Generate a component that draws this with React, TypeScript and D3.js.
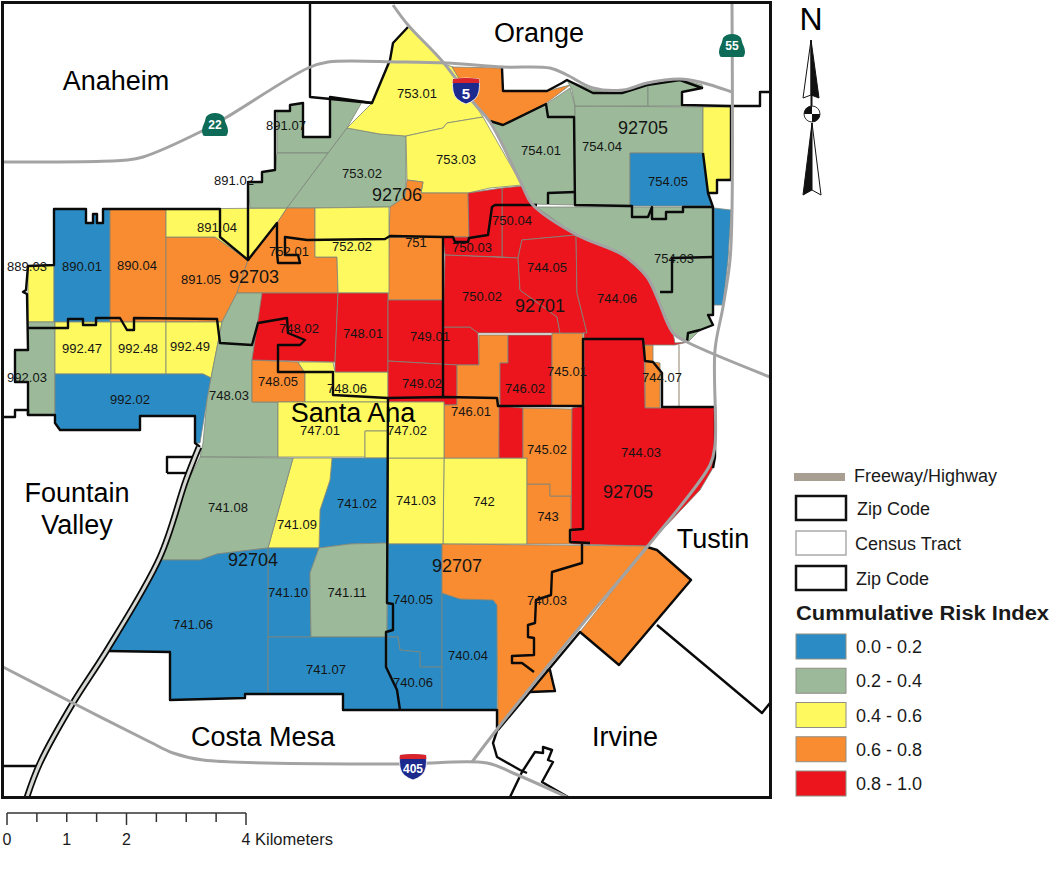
import * as d3 from "d3";
import { useEffect, useRef } from "react";

// traced outlines, in map units (one unit is one pixel of the source map)
type Ring = number[][];

const riskBreaks = [0.2, 0.4, 0.6, 0.8];
const riskColors = ["#2b8cc5", "#9cba9a", "#fdf95f", "#f98b30", "#ec151d"];
const riskLabels = ["0.0 - 0.2", "0.2 - 0.4", "0.4 - 0.6", "0.6 - 0.8", "0.8 - 1.0"];

const tractRisk: Record<string, number> = {
	"889.03": 0.5, "890.01": 0.1, "890.04": 0.7, "891.05": 0.7, "891.04": 0.5,
	"891.07": 0.3, "891.02": 0.3, "753.02": 0.3, "753.01": 0.5, "753.03": 0.5,
	"753.a": 0.7, "753.b": 0.7, "752.01": 0.7, "752.02": 0.5, "751": 0.7,
	"992.03": 0.3, "992.47": 0.5, "992.48": 0.5, "992.49": 0.5, "992.02": 0.1,
	"748.03": 0.3, "748.05": 0.7, "748.06": 0.5, "748.02": 0.9, "748.01": 0.9,
	"749.01": 0.9, "749.02": 0.9, "746.01": 0.7, "746.02": 0.9, "746.a": 0.9,
	"745.01": 0.7, "745.02": 0.7, "743": 0.7, "742": 0.5, "744.07": 0.7,
	"744.03": 0.9, "747.01": 0.5, "747.02": 0.5, "741.03": 0.5, "741.02": 0.1,
	"741.09": 0.5, "741.08": 0.3, "741.10": 0.1, "741.11": 0.3, "741.06": 0.1,
	"741.07": 0.1, "740.05": 0.1, "740.06": 0.1, "740.04": 0.1, "740.03": 0.7,
	"750.04": 0.9, "750.03": 0.9, "750.02": 0.9, "744.05": 0.9, "744.06": 0.9,
	"754.01": 0.3, "754.04": 0.3, "754.05": 0.1, "754.03": 0.3, "754.a": 0.3,
	"754.b": 0.3, "755.a": 0.5, "755.b": 0.1
};

const tractShapes: Record<string, Ring[]> = {
	"889.03": [[[28, 266], [54, 265], [54, 322], [28, 322]]],
	"890.01": [[[54, 209], [86, 209], [86, 223], [93, 223], [93, 214], [97, 214], [97, 223], [103, 223], [103, 209], [110, 209], [110, 322], [54, 322]]],
	"890.04": [[[110, 209], [166, 209], [166, 322], [110, 322]]],
	"891.05": [[[166, 237], [215, 237], [248, 260], [237, 293], [222, 322], [166, 322]]],
	"891.04": [[[166, 209], [287, 208], [277, 223], [248, 260], [215, 237], [166, 237]]],
	"891.07": [[[277, 111], [290, 111], [290, 105], [303, 103], [303, 137], [330, 137], [330, 97], [362, 102], [347, 128], [328, 153], [277, 153]]],
	"891.02": [[[277, 153], [328, 153], [287, 208], [250, 208], [248, 182], [262, 182], [262, 172], [275, 170]]],
	"753.02": [[[347, 128], [380, 134], [406, 136], [406, 180], [405, 197], [390, 207], [287, 208]]],
	"753.01": [[[408, 27], [432, 50], [447, 65], [453, 67], [473, 102], [483, 117], [447, 123], [443, 128], [406, 136], [380, 134], [347, 128], [372, 103], [390, 60], [393, 43]]],
	"753.03": [[[406, 136], [443, 128], [447, 123], [483, 117], [522, 185], [490, 188], [468, 193], [421, 193], [423, 182], [407, 180]]],
	"753.a": [[[407, 180], [423, 182], [421, 193], [468, 193], [469, 237], [389, 237], [390, 207], [405, 197]]],
	"753.b": [[[452, 67], [502, 68], [503, 91], [547, 91], [570, 85], [557, 95], [545, 104], [503, 125], [490, 121], [473, 102]]],
	"752.01": [[[287, 208], [315, 208], [315, 257], [337, 257], [338, 293], [237, 293], [248, 260], [277, 223]]],
	"752.02": [[[315, 208], [389, 207], [389, 293], [338, 293], [337, 257], [315, 257]]],
	"751": [[[389, 237], [443, 237], [443, 300], [388, 300]]],
	"992.03": [[[28, 322], [55, 322], [55, 415], [28, 415], [28, 382], [15, 382], [15, 350], [28, 350]]],
	"992.47": [[[55, 322], [111, 322], [111, 374], [55, 374]]],
	"992.48": [[[111, 322], [166, 322], [166, 374], [111, 374]]],
	"992.49": [[[166, 322], [222, 322], [211, 378], [203, 374], [166, 374]]],
	"992.02": [[[55, 374], [203, 374], [211, 378], [207, 400], [200, 443], [195, 443], [195, 416], [140, 416], [140, 430], [60, 430], [55, 423], [55, 415]]],
	"748.03": [[[237, 293], [263, 293], [252, 360], [252, 402], [278, 402], [278, 457], [200, 457], [203, 443], [207, 400], [211, 378], [222, 322]]],
	"748.05": [[[252, 360], [298, 362], [305, 373], [305, 402], [252, 402]]],
	"748.06": [[[298, 362], [333, 362], [335, 372], [388, 372], [388, 402], [305, 402], [305, 373]]],
	"748.02": [[[262, 293], [338, 293], [335, 362], [252, 360]]],
	"748.01": [[[338, 293], [388, 293], [388, 372], [335, 372], [335, 362]]],
	"749.01": [[[388, 300], [443, 300], [443, 327], [470, 327], [478, 333], [479, 365], [457, 365], [388, 361]]],
	"749.02": [[[388, 361], [457, 365], [457, 405], [444, 405], [444, 402], [388, 402]]],
	"746.01": [[[479, 335], [508, 335], [508, 363], [500, 363], [499, 458], [444, 458], [444, 405], [457, 405], [457, 365], [479, 365]]],
	"746.02": [[[508, 335], [552, 335], [552, 406], [500, 406], [500, 363], [508, 363]]],
	"746.a": [[[499, 406], [523, 408], [523, 458], [499, 458]]],
	"745.01": [[[552, 333], [583, 333], [583, 406], [552, 406]]],
	"745.02": [[[523, 408], [572, 409], [572, 496], [550, 496], [550, 484], [527, 484], [527, 458], [523, 458]]],
	"743": [[[527, 484], [550, 484], [550, 496], [571, 496], [571, 544], [527, 544]]],
	"742": [[[444, 458], [527, 458], [527, 544], [443, 544]]],
	"741.03": [[[388, 458], [444, 458], [443, 544], [388, 544]]],
	"744.07": [[[645, 345], [653, 345], [653, 362], [660, 363], [660, 408], [645, 408]]],
	"744.03": [[[584, 339], [644, 339], [645, 408], [660, 408], [715, 407], [715, 457], [713, 468], [700, 490], [647, 546], [571, 544], [572, 408], [584, 406]]],
	"747.01": [[[278, 402], [388, 402], [388, 431], [365, 431], [365, 457], [278, 457]]],
	"747.02": [[[365, 431], [388, 431], [388, 402], [444, 402], [444, 458], [365, 458]]],
	"741.02": [[[332, 458], [388, 458], [388, 543], [350, 544], [319, 548], [320, 510], [330, 480]]],
	"741.09": [[[293, 458], [332, 458], [330, 480], [320, 510], [319, 548], [268, 548]]],
	"741.08": [[[200, 457], [293, 458], [268, 548], [217, 554], [200, 560], [160, 560], [173, 513], [187, 483]]],
	"741.10": [[[268, 548], [319, 548], [310, 573], [311, 637], [268, 637]]],
	"741.11": [[[319, 548], [350, 544], [387, 543], [387, 637], [311, 637], [310, 573]]],
	"741.06": [[[160, 560], [200, 560], [217, 554], [268, 548], [268, 694], [245, 694], [245, 698], [170, 700], [170, 652], [107, 651]]],
	"741.07": [[[268, 637], [387, 637], [387, 667], [397, 690], [400, 710], [343, 710], [343, 694], [268, 694]]],
	"740.05": [[[388, 544], [442, 544], [442, 667], [420, 667], [420, 652], [400, 650], [398, 637], [387, 637]]],
	"740.06": [[[387, 637], [398, 637], [400, 650], [420, 652], [420, 667], [442, 667], [442, 710], [400, 710], [397, 690], [387, 667]]],
	"740.04": [[[442, 593], [460, 599], [493, 600], [497, 605], [497, 710], [442, 710]]],
	"740.03": [
		[[442, 544], [646, 546], [580, 627], [498, 728], [497, 605], [493, 600], [460, 599], [442, 593]],
		[[647, 547], [657, 550], [691, 580], [619, 665], [580, 632]],
		[[546, 670], [550, 670], [553, 683], [555, 691], [530, 692]]
	],
	"750.04": [[[502, 188], [522, 186], [532, 204], [576, 235], [522, 240], [518, 258], [502, 257]]],
	"750.03": [[[443, 237], [469, 237], [468, 193], [502, 188], [502, 257], [445, 255]]],
	"750.02": [[[445, 255], [518, 258], [520, 290], [557, 317], [560, 333], [478, 333], [470, 327], [443, 327]]],
	"744.05": [[[522, 240], [576, 235], [577, 293], [587, 333], [560, 333], [557, 317], [520, 290], [518, 258]]],
	"744.06": [[[576, 235], [623, 255], [647, 277], [657, 297], [673, 333], [675, 343], [688, 342], [675, 345], [644, 345], [644, 339], [584, 339], [584, 333], [587, 333], [577, 293]]],
	"754.01": [[[490, 121], [503, 125], [545, 105], [570, 88], [575, 106], [575, 205], [532, 204], [522, 185]]],
	"754.04": [[[575, 106], [703, 107], [703, 153], [630, 153], [630, 206], [575, 206]]],
	"754.05": [[[630, 153], [703, 153], [708, 193], [712, 206], [630, 206]]],
	"754.03": [[[532, 204], [537, 207], [713, 207], [713, 315], [708, 315], [713, 325], [700, 330], [688, 342], [673, 333], [657, 297], [647, 277], [623, 255], [576, 235]]],
	"754.a": [[[567, 80], [593, 90], [623, 90], [648, 85], [648, 106], [575, 106], [572, 90]]],
	"754.b": [[[648, 85], [680, 79], [702, 85], [703, 88], [682, 92], [682, 106], [648, 106]]],
	"755.a": [[[703, 107], [731, 107], [731, 179], [717, 180], [717, 193], [708, 193], [703, 153]]],
	"755.b": [[[714, 208], [731, 210], [728, 260], [723, 305], [714, 305]]]
};

const tractLabels: [string, number, number][] = [
	["889.03", 27, 266], ["890.01", 82, 266], ["890.04", 137, 265], ["891.05", 201, 279],
	["891.04", 217, 227], ["891.07", 286, 125], ["891.02", 234, 180], ["753.02", 362, 173],
	["752.01", 289, 251], ["752.02", 352, 246], ["992.47", 82, 348], ["992.48", 138, 348],
	["992.49", 190, 346], ["992.03", 27, 377], ["992.02", 130, 399], ["748.03", 229, 395],
	["748.05", 278, 381], ["748.06", 347, 388], ["748.02", 299, 328], ["748.01", 363, 333],
	["749.01", 430, 336], ["749.02", 422, 383], ["746.01", 471, 411], ["746.02", 525, 388],
	["745.01", 567, 371], ["744.07", 662, 377], ["744.03", 641, 452], ["745.02", 547, 449],
	["743", 548, 516], ["742", 484, 501], ["741.03", 416, 500], ["747.02", 407, 430],
	["747.01", 320, 430], ["741.02", 357, 503], ["741.09", 297, 524], ["741.08", 228, 507],
	["741.10", 288, 592], ["741.11", 347, 592], ["741.06", 193, 624], ["741.07", 326, 669],
	["740.05", 413, 599], ["740.06", 413, 682], ["740.04", 468, 655], ["740.03", 547, 600],
	["750.04", 512, 220], ["750.03", 472, 247], ["744.05", 547, 267], ["750.02", 482, 296],
	["744.06", 617, 298], ["751", 416, 242], ["753.01", 417, 93], ["753.03", 456, 159],
	["754.01", 541, 150], ["754.04", 602, 146], ["754.05", 668, 181], ["754.03", 674, 258]
];

const zipLabels: [string, number, number][] = [
	["92706", 397, 195], ["92703", 254, 277], ["92701", 540, 306], ["92705", 643, 128],
	["92705", 628, 492], ["92704", 253, 560], ["92707", 457, 566]
];

const cityLabels: [string, number, number][] = [
	["Anaheim", 116, 81], ["Orange", 539, 33], ["Santa Ana", 353, 413],
	["Fountain", 77, 493], ["Valley", 77, 525], ["Costa Mesa", 263, 737],
	["Tustin", 713, 539], ["Irvine", 625, 737]
];

const zipLines: Ring[] = [
	[[3, 417], [15, 417], [15, 410], [28, 410], [28, 415], [55, 415], [55, 423], [60, 430], [140, 430], [140, 416], [195, 416], [195, 443], [200, 447]],
	[[28, 415], [28, 382], [15, 382], [15, 350], [28, 350], [27, 294], [23, 292], [26, 290], [28, 266], [54, 265], [54, 209], [86, 209], [86, 223], [93, 223], [93, 214], [97, 214], [97, 223], [103, 223], [103, 209], [220, 209], [220, 237], [248, 260], [248, 182], [262, 182], [262, 172], [275, 170], [275, 111], [290, 111], [290, 105], [303, 103], [303, 137], [330, 137], [330, 97], [372, 103], [390, 60], [393, 43], [408, 27]],
	[[27, 328], [68, 328], [68, 319], [83, 319], [83, 325], [96, 325], [96, 318], [120, 318], [127, 330], [134, 330], [134, 318], [217, 319], [220, 343], [252, 345], [258, 323], [287, 318], [288, 333], [305, 340], [300, 345], [278, 345], [278, 372], [333, 372], [333, 395], [388, 398], [445, 397], [497, 398], [498, 406], [583, 406], [583, 339], [643, 339], [645, 361], [653, 362], [662, 373], [662, 407], [715, 407], [715, 457], [713, 468]],
	[[248, 260], [277, 223], [277, 253], [278, 263], [300, 263], [298, 255], [285, 255], [285, 237], [307, 240], [385, 239], [390, 236], [443, 237], [453, 237], [455, 242], [468, 242], [469, 238], [488, 235], [492, 207], [495, 205], [537, 205]],
	[[443, 237], [443, 397]],
	[[548, 204], [548, 193], [575, 192]],
	[[490, 121], [503, 125], [546, 104], [548, 117], [574, 117], [575, 205], [632, 206], [632, 217], [648, 217], [652, 207], [652, 219], [666, 219], [666, 212], [683, 212], [683, 207], [713, 207], [713, 315], [708, 315], [713, 325], [700, 330], [688, 333], [687, 342]],
	[[502, 68], [503, 91], [547, 91], [562, 83], [567, 80], [593, 93], [622, 93], [647, 85], [680, 80], [702, 88], [682, 92], [682, 105], [731, 106], [760, 106], [760, 92], [770, 92]],
	[[703, 153], [708, 193], [717, 193], [717, 180], [731, 180], [731, 106]],
	[[708, 193], [713, 207]],
	[[713, 257], [672, 258], [672, 292], [660, 292]],
	[[310, 3], [310, 97], [372, 103]],
	[[582, 544], [582, 563], [552, 572], [551, 595], [536, 600], [535, 623], [528, 625], [528, 637], [534, 638], [534, 655], [512, 656], [512, 663], [522, 663], [534, 672]],
	[[590, 543], [570, 542], [570, 530], [583, 529], [583, 406]],
	[[388, 398], [387, 603], [393, 604], [393, 630], [386, 632], [386, 667], [397, 690], [400, 710]],
	[[107, 651], [170, 652], [170, 700], [245, 698], [245, 694], [343, 694], [343, 710], [497, 710], [497, 728]],
	[[498, 730], [580, 632], [619, 665], [691, 580], [657, 550], [647, 547]],
	[[657, 625], [762, 713], [770, 703]],
	[[546, 670], [550, 670], [553, 683], [555, 691], [530, 692]],
	[[498, 728], [493, 743], [497, 757], [520, 770], [527, 773]],
	[[510, 797], [522, 772], [535, 752], [543, 753], [543, 747], [552, 750], [548, 760], [553, 762], [542, 782], [568, 797]],
	[[167, 473], [167, 457], [197, 457]],
	[[167, 473], [188, 473]],
	[[3, 766], [37, 766]]
];

const freeways: Ring[] = [
	[[2, 162], [127, 160], [143, 157], [200, 132], [227, 117], [308, 68], [328, 62], [400, 62], [447, 63], [503, 67], [550, 68], [567, 75], [593, 88], [623, 90], [647, 83], [680, 79], [700, 82], [732, 92]],
	[[393, 5], [408, 25], [443, 62], [473, 102], [490, 122], [522, 185], [532, 204], [577, 235], [623, 255], [647, 277], [657, 297], [673, 333], [687, 342], [770, 377]],
	[[732, 3], [732, 210], [730, 260], [723, 307], [715, 350], [715, 445], [710, 465], [647, 547], [580, 627], [498, 728], [472, 762]],
	[[3, 667], [73, 703], [150, 742], [173, 753], [203, 760], [397, 764], [487, 763], [513, 773], [567, 797]]
];

const tollRoad: Ring = [[199, 447], [186, 480], [160, 557], [107, 650], [73, 703], [40, 763], [27, 797]];

const stateShields: [string, number, number][] = [["22", 215, 125], ["55", 732, 46]];
const interstateShields: [string, number, number][] = [["5", 466, 91], ["405", 413, 767]];

const scaleMajorKm = [0, 1, 2, 4];
const scaleTicksKm = [0, 0.5, 1, 1.5, 2, 2.5, 3, 3.5, 4];

const FONT = "'Liberation Sans', Arial, sans-serif";

const drawChart = (node: SVGSVGElement) => {
	const svg = d3.select(node);
	svg.selectAll("*").remove();

	const color = d3.scaleThreshold<number, string>().domain(riskBreaks).range(riskColors);
	const path = d3.geoPath(d3.geoIdentity());
	const curve = d3.line().curve(d3.curveCatmullRom.alpha(0.5));
	const line = (coords: Ring) => path({ type: "LineString", coordinates: coords } as any) as string;

	// geojson rings have to end on their first point
	const features = Object.keys(tractShapes).map(id => ({
		type: "Feature",
		id,
		properties: { risk: tractRisk[id] },
		geometry: { type: "MultiPolygon", coordinates: tractShapes[id].map(r => [[...r, r[0]]]) }
	}));

	svg
		.append("g")
		.selectAll("path")
		.data(features)
		.enter()
		.append("path")
		.attr("d", d => path(d as any))
		.attr("fill", d => color(d.properties.risk))
		.attr("stroke", "#7d857a")
		.attr("stroke-width", 0.8);

	// census tract edge of the white hole by 744.07
	svg
		.append("path")
		.attr("d", line([[679, 345], [679, 407]]))
		.attr("fill", "none")
		.attr("stroke", "#b5ab9c")
		.attr("stroke-width", 1.5);

	svg
		.append("g")
		.selectAll("path")
		.data(zipLines)
		.enter()
		.append("path")
		.attr("d", line)
		.attr("fill", "none")
		.attr("stroke", "#0a0a0a")
		.attr("stroke-width", 2.4)
		.attr("stroke-linejoin", "round");

	[["#0a0a0a", 6.5], ["#d5d8d2", 3]].forEach(([c, w]) => {
		svg
			.append("path")
			.attr("d", curve(tollRoad as any) as string)
			.attr("fill", "none")
			.attr("stroke", c as string)
			.attr("stroke-width", w as number);
	});

	svg
		.append("g")
		.selectAll("path")
		.data(freeways)
		.enter()
		.append("path")
		.attr("d", d => curve(d as any) as string)
		.attr("fill", "none")
		.attr("stroke", "#a3a3a3")
		.attr("stroke-width", 3)
		.attr("stroke-linejoin", "round");

	svg
		.append("rect")
		.attr("x", 2.5)
		.attr("y", 2.5)
		.attr("width", 768)
		.attr("height", 795)
		.attr("fill", "none")
		.attr("stroke", "#111")
		.attr("stroke-width", 3);

	const addText = (rows: [string, number, number][], size: number, fill: string) => {
		svg
			.append("g")
			.selectAll("text")
			.data(rows)
			.enter()
			.append("text")
			.attr("x", d => d[1])
			.attr("y", d => d[2])
			.attr("text-anchor", "middle")
			.attr("dominant-baseline", "central")
			.attr("font-family", FONT)
			.attr("font-size", size)
			.attr("fill", fill)
			.text(d => d[0]);
	};

	addText(tractLabels, 13, "#141414");
	addText(zipLabels, 18, "#141414");
	addText(cityLabels, 27, "#000");

	const stateG = svg
		.append("g")
		.selectAll("g")
		.data(stateShields)
		.enter()
		.append("g")
		.attr("transform", d => `translate(${d[1]},${d[2]})`);
	stateG
		.append("path")
		.attr("d", "M-9,-8 Q-6,-12 0,-12 Q6,-12 9,-8 Q10,-3 12,1 Q14,6 12,10 Q12,11 10,11 L-10,11 Q-12,11 -12,10 Q-14,6 -12,1 Q-10,-3 -9,-8 Z")
		.attr("fill", "#0e6b58");
	stateG
		.append("text")
		.attr("text-anchor", "middle")
		.attr("dominant-baseline", "central")
		.attr("font-family", FONT)
		.attr("font-weight", "bold")
		.attr("font-size", 12)
		.attr("fill", "#fff")
		.text(d => d[0]);

	const interG = svg
		.append("g")
		.selectAll("g")
		.data(interstateShields)
		.enter()
		.append("g")
		.attr("transform", d => `translate(${d[1]},${d[2]})`);
	interG
		.append("path")
		.attr("d", "M-13,-12 Q0,-14 13,-12 Q15,2 9,8 Q4,12 0,13 Q-4,12 -9,8 Q-15,2 -13,-12 Z")
		.attr("fill", "#1b2a8c")
		.attr("stroke", "#fff")
		.attr("stroke-width", 0.8);
	interG
		.append("path")
		.attr("d", "M-13,-12 Q0,-14 13,-12 L13.4,-8 L-13.4,-8 Z")
		.attr("fill", "#d8242a");
	interG
		.append("text")
		.attr("y", 2)
		.attr("text-anchor", "middle")
		.attr("dominant-baseline", "central")
		.attr("font-family", FONT)
		.attr("font-weight", "bold")
		.attr("font-size", d => (d[0].length > 1 ? 12 : 15))
		.attr("fill", "#fff")
		.text(d => d[0]);

	// north arrow
	const north = svg.append("g");
	north
		.append("text")
		.attr("x", 811)
		.attr("y", 30)
		.attr("text-anchor", "middle")
		.attr("font-family", FONT)
		.attr("font-size", 32)
		.text("N");
	north.append("path").attr("d", "M811,40 L803,98 L811,95 Z").attr("fill", "#fff").attr("stroke", "#111").attr("stroke-width", 1);
	north.append("path").attr("d", "M811,40 L819,98 L811,95 Z").attr("fill", "#111").attr("stroke", "#111").attr("stroke-width", 1);
	north.append("path").attr("d", "M811.5,95 L811.5,106").attr("stroke", "#111").attr("stroke-width", 2);
	north.append("circle").attr("cx", 812).attr("cy", 114).attr("r", 8).attr("fill", "#fff").attr("stroke", "#333").attr("stroke-width", 1);
	north.append("path").attr("d", "M812,114 L804,114 A8,8 0 0 1 812,106 Z").attr("fill", "#111");
	north.append("path").attr("d", "M812,114 L820,114 A8,8 0 0 1 812,122 Z").attr("fill", "#111");
	north.append("path").attr("d", "M812,123 L803,195 L812,190 Z").attr("fill", "#111").attr("stroke", "#111").attr("stroke-width", 1);
	north.append("path").attr("d", "M812,123 L821,195 L812,190 Z").attr("fill", "#fff").attr("stroke", "#111").attr("stroke-width", 1);

	// legend
	const legendX = 796;
	const addLegendText = (label: string, x: number, y: number, size = 18, weight = "normal") =>
		svg
			.append("text")
			.attr("x", x)
			.attr("y", y)
			.attr("dominant-baseline", "central")
			.attr("font-family", FONT)
			.attr("font-size", size)
			.attr("font-weight", weight)
			.attr("fill", "#1a1a1a")
			.text(label);

	svg.append("rect").attr("x", legendX - 2).attr("y", 473).attr("width", 51).attr("height", 8).attr("fill", "#a89f92");
	addLegendText("Freeway/Highway", 854, 476);

	const outlineRows: [string, string, number, number, number][] = [
		["Zip Code", "#111", 2.5, 496, 857],
		["Census Tract", "#aaa", 1.5, 531, 855],
		["Zip Code", "#111", 2.5, 566, 856]
	];
	outlineRows.forEach(([label, stroke, w, y, tx]) => {
		svg.append("rect").attr("x", legendX).attr("y", y).attr("width", 50).attr("height", 24).attr("fill", "#fff").attr("stroke", stroke).attr("stroke-width", w);
		addLegendText(label, tx, y + 13);
	});

	addLegendText("Cummulative Risk Index", legendX, 613, 19.5, "bold")
		.attr("textLength", 253)
		.attr("lengthAdjust", "spacingAndGlyphs");

	const legendY = d3.scaleLinear().domain([0, 4]).range([634, 771]);
	riskColors.forEach((c, i) => {
		svg.append("rect").attr("x", legendX).attr("y", legendY(i)).attr("width", 50).attr("height", 25).attr("fill", c).attr("stroke", "#8f8f85").attr("stroke-width", 1);
		addLegendText(riskLabels[i], 856, legendY(i) + 13);
	});

	// scale bar
	const km = d3.scaleLinear().domain([0, 4]).range([7, 246]);
	const bar = svg.append("g").attr("stroke", "#333").attr("stroke-width", 1.5);
	bar.append("line").attr("x1", km(0)).attr("x2", km(4)).attr("y1", 813).attr("y2", 813);
	bar
		.selectAll("line.tick")
		.data(scaleTicksKm)
		.enter()
		.append("line")
		.attr("class", "tick")
		.attr("x1", d => km(d))
		.attr("x2", d => km(d))
		.attr("y1", 813)
		.attr("y2", d => (d % 2 === 0 ? 825 : 822));
	scaleMajorKm.forEach(d => {
		svg
			.append("text")
			.attr("x", km(d))
			.attr("y", 839)
			.attr("text-anchor", "middle")
			.attr("dominant-baseline", "central")
			.attr("font-family", FONT)
			.attr("font-size", 16)
			.attr("fill", "#1a1a1a")
			.text(d);
	});
	addLegendText("Kilometers", 255, 839, 16.5);
};

export default function App() {
	const ref = useRef<SVGSVGElement>(null);

	useEffect(() => {
		if (ref.current) drawChart(ref.current);
	}, []);

	return (
		<svg
			ref={ref}
			width={1050}
			height={881}
			style={{ position: "absolute", left: 0, top: 0, background: "#fff" }}
		/>
	);
}
